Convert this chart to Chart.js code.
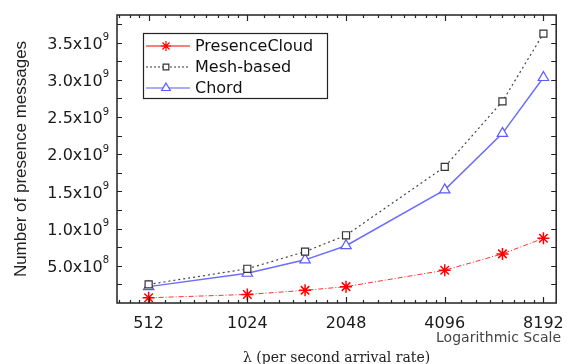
<!DOCTYPE html>
<html>
<head>
<meta charset="utf-8">
<script src="https://cdn.jsdelivr.net/npm/chart.js@4"></script>
<style>
  html, body { margin: 0; padding: 0; background: #fff; }
  #wrap { width: 567px; height: 364px; }
</style>
</head>
<body>
<div id="wrap"><canvas id="chart" width="567" height="364"></canvas></div>
<script>
// arrival rates (log2 axis)
const rates = [512, 1024, 1536, 2048, 4096, 6144, 8192];
const xLabels = [512, 1024, 2048, 4096, 8192];

// number of presence messages
const presenceCloud = [0.07e9, 0.115e9, 0.17e9, 0.22e9, 0.44e9, 0.66e9, 0.87e9];
const meshBased = [0.25e9, 0.46e9, 0.69e9, 0.91e9, 1.83e9, 2.71e9, 3.62e9];
const chord = [0.22e9, 0.40e9, 0.58e9, 0.77e9, 1.52e9, 2.28e9, 3.03e9];

// y tick labels: mantissa and exponent
const yTickValues = [5e8, 1e9, 1.5e9, 2e9, 2.5e9, 3e9, 3.5e9];
const yTickMantissa = ['5.0', '1.0', '1.5', '2.0', '2.5', '3.0', '3.5'];
const yTickExp = ['8', '9', '9', '9', '9', '9', '9'];

const seriesNames = ['PresenceCloud', 'Mesh-based', 'Chord'];

const SANS = '"DejaVu Sans", Verdana, sans-serif';

function toPoints(vals) {
	return vals.map((v, i) => ({ x: rates[i], y: v }));
}

// box, inside tick marks, y labels, legend and the "Logarithmic Scale" note
const framePlugin = {
	id: 'frame',
	afterDraw(chart) {
		const ctx = chart.ctx;
		const a = chart.chartArea;
		const xs = chart.scales.x;
		const ys = chart.scales.y;
		ctx.save();
		ctx.strokeStyle = '#222';
		ctx.lineWidth = 1.5;
		ctx.strokeRect(a.left, a.top, a.right - a.left, a.bottom - a.top);

		ctx.lineWidth = 1.2;
		ctx.beginPath();
		xs.ticks.forEach(t => {
			const px = Math.round(xs.getPixelForValue(t.value)) + 0.5;
			const len = xLabels.includes(t.value) ? 6 : 3;
			ctx.moveTo(px, a.bottom); ctx.lineTo(px, a.bottom - len);
			ctx.moveTo(px, a.top); ctx.lineTo(px, a.top + len);
		});
		ys.ticks.forEach(t => {
			if (t.value <= 0 || t.value >= ys.max) return;
			const py = Math.round(ys.getPixelForValue(t.value)) + 0.5;
			ctx.moveTo(a.left, py); ctx.lineTo(a.left + 5, py);
			ctx.moveTo(a.right, py); ctx.lineTo(a.right - 5, py);
		});
		ctx.stroke();

		// y tick labels with raised exponent
		ctx.fillStyle = '#1a1a1a';
		ctx.textBaseline = 'middle';
		yTickValues.forEach((v, i) => {
			const py = ys.getPixelForValue(v);
			ctx.font = '10px ' + SANS;
			ctx.textAlign = 'left';
			const right = a.left - 8;
			const expW = ctx.measureText(yTickExp[i]).width;
			ctx.fillText(yTickExp[i], right - expW, py - 5);
			ctx.font = '16px ' + SANS;
			ctx.textAlign = 'right';
			ctx.fillText(yTickMantissa[i] + 'x10', right - expW, py + 2);
		});

		// legend
		const lx = 143, ly = 33, lw = 184, lh = 65;
		ctx.fillStyle = '#fff';
		ctx.fillRect(lx, ly, lw, lh);
		ctx.lineWidth = 1.2;
		ctx.strokeStyle = '#222';
		ctx.strokeRect(lx + 0.5, ly + 0.5, lw, lh);
		ctx.font = '16px ' + SANS;
		ctx.textAlign = 'left';
		ctx.textBaseline = 'middle';
		chart.data.datasets.forEach((ds, i) => {
			const y = ly + 13 + i * 21;
			ctx.save();
			ctx.strokeStyle = ds.pointBorderColor;
			ctx.lineWidth = 1.2;
			ctx.setLineDash(i === 1 ? [2, 2] : []);
			ctx.beginPath();
			ctx.moveTo(lx + 3, y); ctx.lineTo(lx + 47, y);
			ctx.stroke();
			ctx.setLineDash([]);
			ctx.fillStyle = '#fff';
			Chart.helpers.drawPoint(ctx, {
				pointStyle: ds.pointStyle,
				radius: ds.pointRadius - 1,
				borderWidth: 1.2
			}, lx + 23, y);
			ctx.restore();
			ctx.fillStyle = '#111';
			ctx.fillText(ds.label, lx + 52, y + 1);
		});

		ctx.font = '14px ' + SANS;
		ctx.fillStyle = '#444';
		ctx.textAlign = 'right';
		ctx.fillText('Logarithmic Scale', 561, 338);
		ctx.restore();
	}
};

new Chart(document.getElementById('chart'), {
	type: 'line',
	data: {
		datasets: [{
			label: seriesNames[0],
			data: toPoints(presenceCloud),
			borderColor: '#ff3030',
			backgroundColor: '#ff0000',
			borderWidth: 1,
			borderDash: [5, 2, 1, 2],
			pointStyle: 'star',
			pointRadius: 6,
			pointBorderColor: '#ff0000',
			pointBorderWidth: 1.5
		}, {
			label: seriesNames[1],
			data: toPoints(meshBased),
			borderColor: '#444',
			backgroundColor: '#fff',
			borderWidth: 1.2,
			borderDash: [2, 3],
			pointStyle: 'rect',
			pointRadius: 5,
			pointBorderColor: '#333',
			pointBackgroundColor: '#fff',
			pointBorderWidth: 1.2
		}, {
			label: seriesNames[2],
			data: toPoints(chord),
			borderColor: '#6c6cff',
			backgroundColor: '#fff',
			borderWidth: 1.5,
			pointStyle: 'triangle',
			pointRadius: 6,
			pointBorderColor: '#5a5aff',
			pointBackgroundColor: '#fff',
			pointBorderWidth: 1.2
		}]
	},
	options: {
		responsive: false,
		animation: false,
		layout: { padding: { top: 15, right: 6, left: 0, bottom: 0 } },
		plugins: { legend: { display: false }, tooltip: { enabled: false } },
		scales: {
			x: {
				type: 'logarithmic',
				min: 410,
				max: 8960,
				grid: { display: false },
				border: { display: false },
				afterBuildTicks(scale) {
					const ticks = [];
					[256].concat(xLabels).forEach(base => {
						for (let k = 0; k < 8; k++) {
							const v = base * (1 + k / 8);
							if (v >= scale.min && v <= scale.max) ticks.push({ value: v });
						}
					});
					scale.ticks = ticks;
				},
				afterFit(scale) { scale.height = 61; },
				ticks: {
					autoSkip: false,
					maxRotation: 0,
					padding: 3,
					color: '#1a1a1a',
					font: { size: 16, family: SANS },
					callback: v => xLabels.includes(v) ? String(v) : ''
				},
				title: {
					display: true,
					text: '\u03bb (per second arrival rate)',
					color: '#222',
					padding: { top: 0, bottom: -3 },
					font: { size: 14, family: '"DejaVu Serif", "Liberation Serif", serif' }
				}
			},
			y: {
				min: 0,
				max: 3.87e9,
				grid: { display: false },
				border: { display: false },
				afterBuildTicks(scale) {
					const ticks = [];
					for (let v = 0; v < scale.max; v += 2.5e8) ticks.push({ value: v });
					scale.ticks = ticks;
				},
				afterFit(scale) { scale.width = 117; },
				ticks: {
					autoSkip: false,
					callback: () => ''
				},
				title: {
					display: true,
					text: 'Number of presence messages',
					color: '#222',
					padding: { top: 11, bottom: 0 },
					font: { size: 17, family: '"Liberation Sans", Arial, sans-serif' }
				}
			}
		}
	},
	plugins: [framePlugin]
});
</script>
</body>
</html>
